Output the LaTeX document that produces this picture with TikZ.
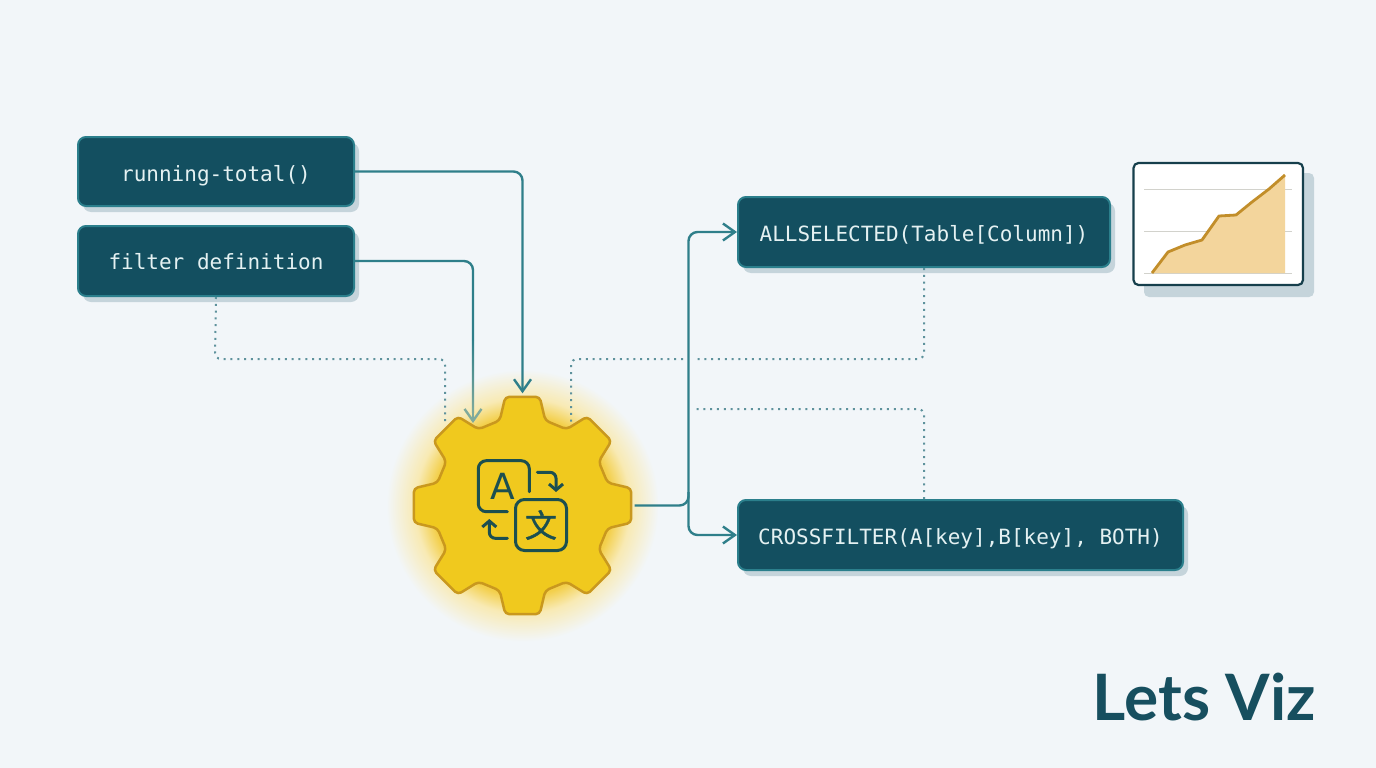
\documentclass[tikz,border=0pt]{standalone}
\usepackage{fontspec}
\setsansfont{DejaVu Sans}
\setmonofont{DejaVu Sans Mono}
\newfontfamily\cjkfont[FakeBold=1.2]{Noto Sans CJK SC}
\newfontfamily\brandfont{Lato}
\usetikzlibrary{arrows.meta,shadows}

\definecolor{paper}{HTML}{F2F6F9}
\definecolor{boxfill}{HTML}{134F60}
\definecolor{boxedge}{HTML}{2B7F8C}
\definecolor{shadowc}{HTML}{C5D4DB}
\definecolor{wire}{HTML}{2F7F8A}
\definecolor{wirepale}{HTML}{7FAA9C}
\definecolor{dots}{HTML}{5E929C}
\definecolor{boxtext}{HTML}{E4F1F2}
\definecolor{gearfill}{HTML}{F0C91E}
\definecolor{gearedge}{HTML}{C9981E}
\definecolor{glowc}{HTML}{F3CF4A}
\definecolor{glowmid}{HTML}{F8EAB4}
\definecolor{icon}{HTML}{1C4F50}
\definecolor{carddark}{HTML}{163F4C}
\definecolor{gridc}{HTML}{D2D2CC}
\definecolor{areac}{HTML}{F3D59C}
\definecolor{linec}{HTML}{C28E2A}
\definecolor{brandc}{HTML}{174F5F}

\pgfdeclareradialshading{gearglow}{\pgfpointorigin}{%
  color(0bp)=(glowc);color(16.5bp)=(glowc);color(19.8bp)=(glowmid);
  color(25bp)=(paper);color(50bp)=(paper)}

\tikzset{
  fnbox/.style={draw=boxedge,fill=boxfill,line width=2pt,rounded corners=8pt,
    text=boxtext,font=\ttfamily\fontsize{21}{25}\selectfont,inner sep=0pt,
    text height=19pt,text depth=0pt,
    drop shadow={shadow xshift=5pt,shadow yshift=-6pt,fill=shadowc,opacity=1}},
  conn/.style={color=wire,line width=2.4pt,rounded corners=9pt,
    -{Straight Barb[length=12pt,width=17pt,line width=2.4pt]}},
  dotline/.style={color=dots,line width=2pt,rounded corners=6pt,
    dash pattern=on 2pt off 4.8pt},
  gearshape/.style={fill=gearfill,draw=gearedge,line width=2.5pt,rounded corners=4pt,line join=round},
  iconline/.style={color=icon,line width=3pt,rounded corners=8pt,line cap=round},
  iconarrow/.style={iconline,rounded corners=6pt,
    -{Straight Barb[length=6pt,width=14pt,line width=3pt]}},
}

\begin{document}
\begin{tikzpicture}[x=1pt,y=-1pt]
  \fill [paper] (0,0) rectangle (1376,768);
  \useasboundingbox (0,0) rectangle (1376,768);

  \shade [shading=gearglow] (522.5,505.5) circle (136);

  \node [circle,minimum size=224pt,inner sep=0pt] (gear) at (522.5,505.5) {};
  \coordinate (gearl) at (445,424);
  \coordinate (gearr) at (571,424);
  \coordinate (trunk) at (688.5,505.5);
  \coordinate (trunkb) at (688.5,492);

  \node [fnbox,minimum width=276pt,minimum height=69pt] (running) at (216,171.5) {running-total()};
  \node [fnbox,minimum width=276pt,minimum height=70pt,text height=17pt] (filter) at (216,261) {filter definition};
  \node [fnbox,minimum width=372pt,minimum height=70pt] (allsel) at (924,232) {ALLSELECTED(Table[Column])};
  \node [fnbox,minimum width=445pt,minimum height=70pt] (cross) at (960.5,535) {CROSSFILTER(A[key],B[key], BOTH)};

  % dotted links
  \coordinate (dotgapa) at (695,359);
  \coordinate (dotgapb) at (683,359);
  \coordinate (dotend) at (695,409);
  \coordinate (crosstop) at (924,499);
  \draw [dotline] (filter.south) -- (215,359) -- (445,359) -- (gearl);
  \draw [dotline] (allsel.south) -- (924,359) -- (dotgapa);
  \draw [dotline] (dotgapb) -- (571,359) -- (gearr);
  \draw [dotline] (crosstop) -- (924,409) -- (dotend);

  % solid links
  \coordinate (fadetop) at (473,340);
  \coordinate (fadeend) at (473,412);
  \coordinate (gearin) at (473,423);
  \draw [conn] (running.east) -| (gear.north);
  \draw [conn,-] (filter.east) -| (fadetop);
  \shade [top color=wire,bottom color=wirepale] (471.8,340) rectangle (474.2,412);
  \draw [conn,color=wirepale] (fadeend) -- (gearin);
  \draw [conn] (gear.east) -- (trunk) -- (trunk |- allsel.west) -- (allsel.west);
  \draw [conn] (trunkb) |- (cross.west);

  % gear
  \begin{scope}[shift={(gear.center)}]
    \draw [gearshape] (81:110) \foreach \a in {90,45,...,-180} {
      -- (\a-15:88) -- (\a-30:88) -- (\a-36:110) -- (\a-54:110) }
      -- (-240:88) -- (-255:88) -- (99:110) -- cycle;
  \end{scope}

  % translate icon
  \coordinate (aa) at (529.3,491.7);
  \coordinate (ab) at (529.3,460.7);
  \coordinate (ac) at (478.3,460.7);
  \coordinate (ad) at (478.3,511.7);
  \coordinate (ae) at (507.3,511.7);
  \draw [iconline] (aa) -- (ab) -- (ac) -- (ad) -- (ae);
  \node [text=icon,font=\sffamily\fontsize{36}{36}\selectfont,inner sep=0pt] (lettera) at (503,486) {A};
  \node [draw=icon,line width=3pt,rounded corners=9pt,minimum size=51pt,inner sep=0pt,
    text=icon,font=\cjkfont\fontsize{32}{32}\selectfont] (letterx) at (541,525) {文};
  \coordinate (ra) at (537.3,472.3);
  \coordinate (rb) at (556,472.3);
  \coordinate (rc) at (556,492);
  \draw [iconarrow] (ra) -- (rb) -- (rc);
  \coordinate (la) at (507.3,538.3);
  \coordinate (lb) at (489.3,538.3);
  \coordinate (lc) at (489.3,519);
  \draw [iconarrow] (la) -- (lb) -- (lc);

  % chart card
  \fill [shadowc,rounded corners=5pt] (1144,173) rectangle (1314,297);
  \draw [fill=white,draw=carddark,line width=2.2pt,rounded corners=5pt] (1133.5,163) rectangle (1303,285);
  \foreach \y in {189,231,273}
    \draw [gridc,line width=1pt] (1144,\y) -- (1292,\y);
  \fill [areac] (1152,273) -- (1168,252) -- (1185,245) -- (1202,240) -- (1219,216)
    -- (1236,215) -- (1252,202) -- (1269,189) -- (1285,175) -- (1285,273) -- cycle;
  \draw [linec,line width=2.8pt,line join=round] (1152,273) -- (1168,252) -- (1185,245) -- (1202,240)
    -- (1219,216) -- (1236,215) -- (1252,202) -- (1269,189) -- (1285,175);

  \node [text=brandc,font=\brandfont\bfseries\fontsize{64}{64}\selectfont,inner sep=0pt,anchor=base east] (brand) at (1316,720) {Lets Viz};
\end{tikzpicture}
\end{document}
